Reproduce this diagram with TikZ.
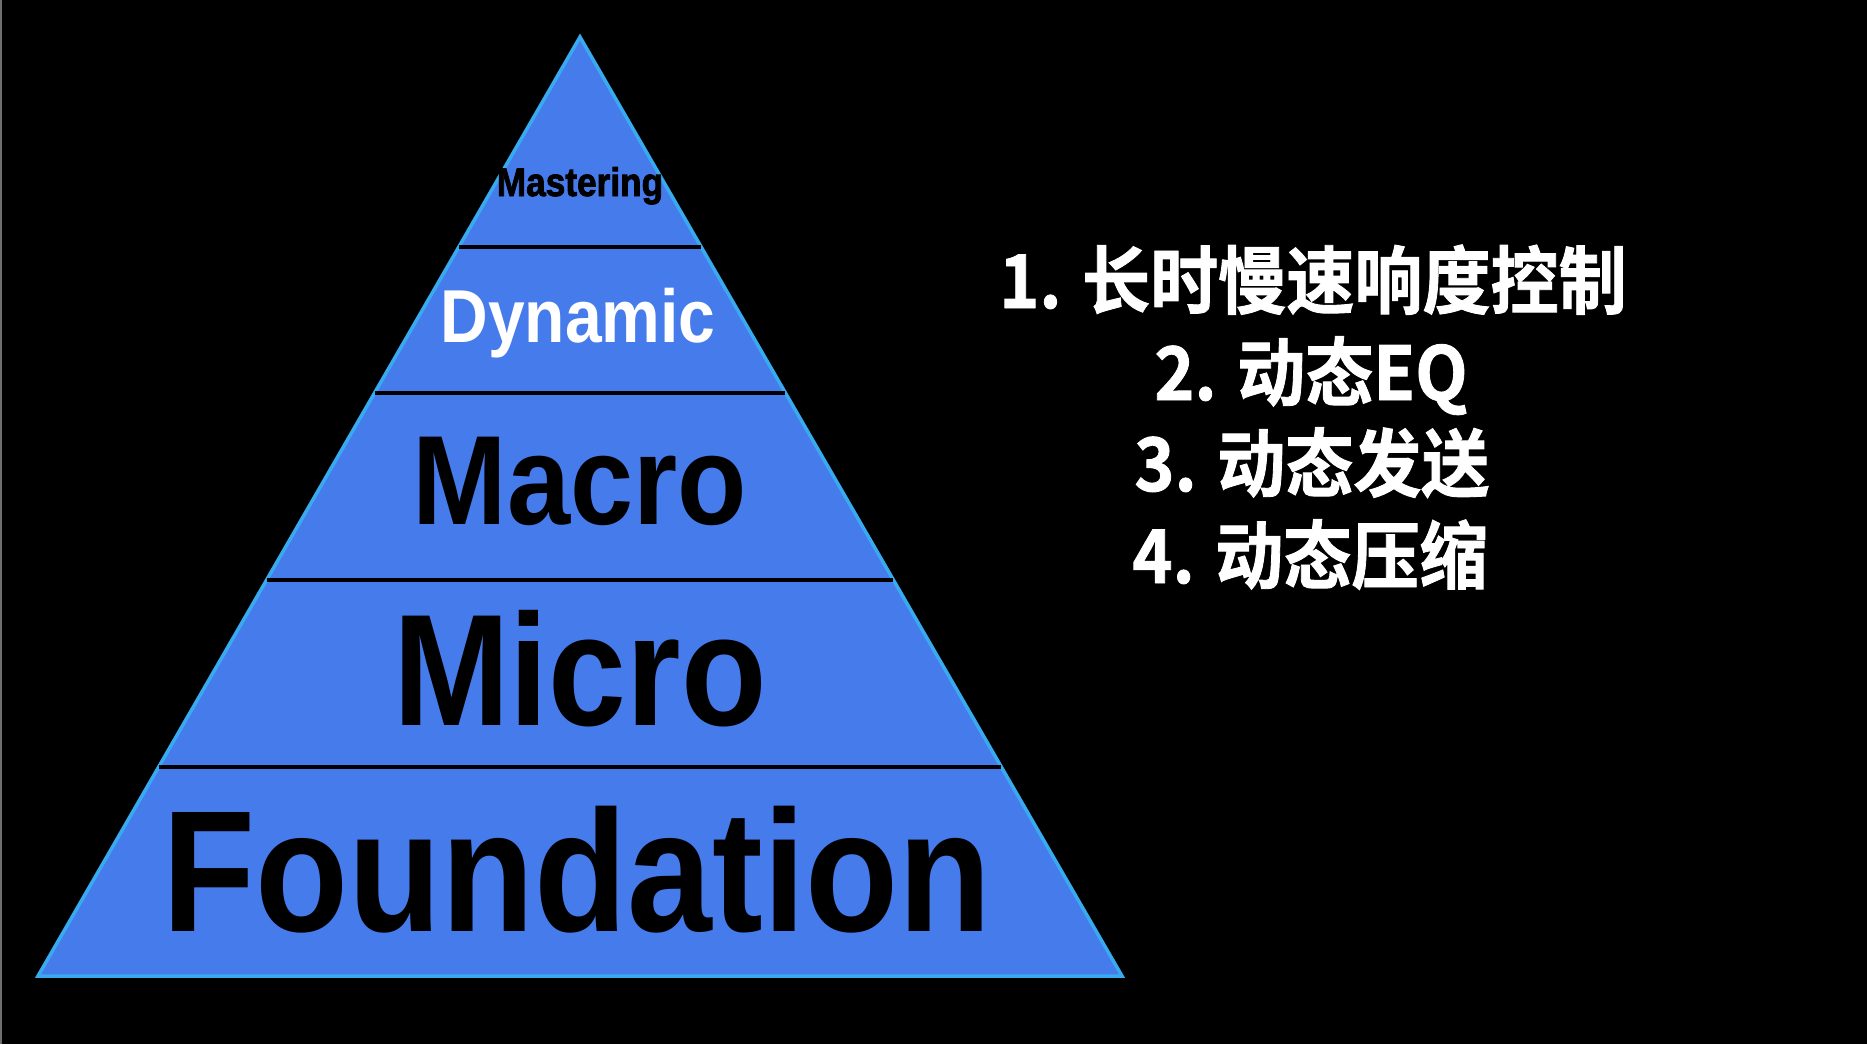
\documentclass[tikz,border=0pt]{standalone}
\usepackage{fontspec}
\setmainfont{Liberation Sans}
\newfontfamily\heavysans{Liberation Sans Bold}[FakeBold=2.2]
\newfontfamily\cjkb{Noto Sans CJK SC Bold}[FakeBold=1.2]
\usetikzlibrary{calc}
\definecolor{pyrblue}{RGB}{70,123,236}
\definecolor{pyredge}{RGB}{56,170,240}
\definecolor{frameline}{RGB}{110,110,110}
\begin{document}
\begin{tikzpicture}[x=1pt,y=-1pt,
  layerlab/.style={anchor=base, inner sep=0pt, xscale=0.88},
  cnlab/.style={anchor=base, inner sep=0pt, xscale=0.92, text=white,
    font=\cjkb\fontsize{74}{74}\selectfont},
  divider/.style={draw=black, line width=4pt},
  pyrshape/.style={fill=pyrblue, draw=pyredge, line width=3.5pt, line join=miter}
]
\fill[black] (0,0) rectangle (1867,1044);
\useasboundingbox (0,0) rectangle (1867,1044);
\draw[frameline, line width=1.5pt] (0.75,0) -- (0.75,1044);

\coordinate (apex) at (580,37);
\coordinate (bl) at (38,976);
\coordinate (br) at (1122,976);

\draw[pyrshape] (apex) -- (br) -- (bl) -- cycle;

\foreach \t/\n in {0.2236/a,0.3791/b,0.5783/c,0.7774/d}{
  \coordinate (L\n) at ($(apex)!\t!(bl)$);
  \coordinate (R\n) at ($(apex)!\t!(br)$);
  \draw[divider] (L\n) -- (R\n);
}

\node[layerlab, font=\heavysans\fontsize{40}{40}\selectfont] (mastering) at (580,196) {Mastering};
\node[layerlab, text=white, font=\bfseries\fontsize{75}{75}\selectfont] (dynamic) at (578,342) {Dynamic};
\node[layerlab, xscale=1.015, font=\bfseries\fontsize{127}{127}\selectfont] (macro) at (580,524) {Macro};
\node[layerlab, font=\bfseries\fontsize{159}{159}\selectfont] (micro) at (580,725) {Micro};
\node[layerlab, font=\bfseries\fontsize{173}{173}\selectfont] (foundation) at (577,931) {Foundation};

\node[cnlab] (item1) at (1313,308) {1. 长时慢速响度控制};
\node[cnlab] (item2) at (1311,400) {2. 动态EQ};
\node[cnlab] (item3) at (1312,491) {3. 动态发送};
\node[cnlab] (item4) at (1310,583) {4. 动态压缩};
\end{tikzpicture}
\end{document}
